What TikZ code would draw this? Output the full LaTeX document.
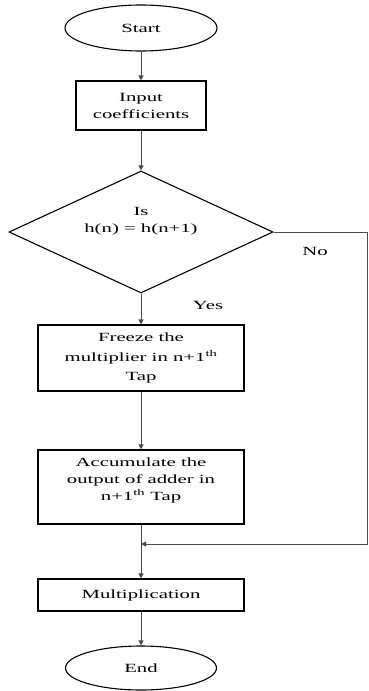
\documentclass[tikz,border=0pt]{standalone}
\usepackage{fontspec}
\setmainfont{Liberation Serif}[FakeStretch=1.66]
\usetikzlibrary{shapes.geometric,arrows.meta}
\begin{document}
\begin{tikzpicture}[x=1bp,y=-1bp,
  every node/.style={font=\fontsize{12.5bp}{17bp}\selectfont, align=center},
  boxnode/.style={draw=black, line width=1.1bp, rectangle, inner sep=0pt},
  ovalnode/.style={draw=black, line width=1.1bp, ellipse, inner sep=0pt},
  decnode/.style={draw=black, line width=1.1bp, diamond, inner sep=0pt},
  conn/.style={draw=black!70, line width=0.9bp, -{Triangle[length=5bp,width=5bp]}}]
\useasboundingbox (0,0) rectangle (368,691);
\node[ovalnode, minimum width=152bp, minimum height=46bp] (start) at (141,28) {Start};
\node[boxnode, minimum width=130bp, minimum height=49bp] (input) at (141,105.5) {Input\\coefficients};
\node[decnode, minimum width=264bp, minimum height=122bp] (dec) at (141,232) {};
\node (dectxt) at (141,221) {Is\\h(n) = h(n+1)};
\node[boxnode, minimum width=206bp, minimum height=66bp, font=\fontsize{12.5bp}{19.5bp}\selectfont] (freeze) at (141,358) {Freeze the\\multiplier in n+1\textsuperscript{th}\\Tap};
\node[boxnode, minimum width=206bp, minimum height=74bp] (accum) at (141,487) {};
\node (accumtxt) at (141,480) {Accumulate the\\output of adder in\\n+1\textsuperscript{th} Tap};
\node[boxnode, minimum width=206bp, minimum height=32bp] (mult) at (141,595) {Multiplication};
\node[ovalnode, minimum width=151bp, minimum height=44bp] (end) at (141,668) {End};
\node (no) at (315,251) {No};
\node (yes) at (208,305) {Yes};
\coordinate (corner1) at (367.5,232);
\coordinate (corner2) at (367.5,544);
\coordinate (join) at (141,544);
\draw[conn] (start) -- (input);
\draw[conn] (input) -- (dec);
\draw[conn] (dec) -- (freeze);
\draw[conn] (freeze) -- (accum);
\draw[conn] (accum) -- (mult);
\draw[conn] (mult) -- (end);
\draw[conn] (dec.east) -- (corner1) -- (corner2) -- (join);
\end{tikzpicture}
\end{document}
